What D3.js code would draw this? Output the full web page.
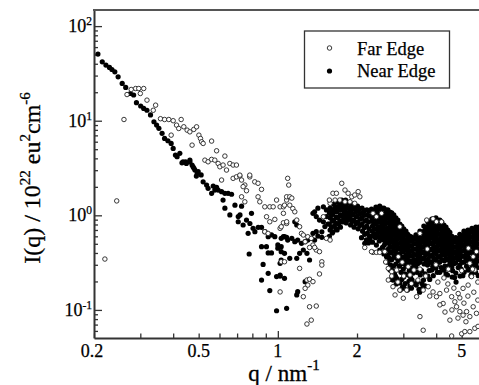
<!DOCTYPE html>
<html><head><meta charset="utf-8">
<script src="https://cdn.jsdelivr.net/npm/d3@7"></script>
<style>html,body{margin:0;padding:0;background:#fff;overflow:hidden}svg{display:block}svg text{font-family:'Liberation Serif','Times New Roman',serif}</style>
</head><body><svg id="c" width="479" height="385"></svg>
<script>
// Near Edge (filled) : [q (nm^-1), I(q)]
const nearEdge = [
[0.207,50.6],[0.215,41.9],[0.222,38.7],[0.229,36.6],[0.234,34.8],[0.240,32.9],[0.247,29.1],[0.256,24.8],[0.264,22.5],[0.275,19.4],[0.283,18.7],[0.290,15.5],[0.301,14.3],[0.309,13.5],[0.318,12.9],[0.328,11.5],[0.338,9.75],[0.346,9.0],[0.353,8.3],[0.363,7.35],[0.371,6.5],[0.382,6.14],[0.393,5.76],[0.400,5.1],[0.408,4.34],[0.414,4.16],[0.424,4.52],[0.432,3.59],[0.436,3.68],[0.446,3.68],[0.449,3.54],[0.463,3.84],[0.463,3.68],[0.472,3.40],[0.476,3.26],[0.480,3.14],[0.484,3.01],[0.490,2.60],[0.494,2.78],[0.498,2.89],[0.511,2.67],[0.520,2.26],[0.536,2.09],[0.543,1.93],[0.560,1.71],[0.568,2.04],[0.576,1.85],[0.585,1.98],[0.593,1.85],[0.611,1.78],[0.629,1.71],[0.647,1.71],[0.667,1.67],[0.619,1.45],[0.629,1.19],[0.657,1.01],[0.687,1.28],[0.707,0.97],[0.728,1.25],[0.718,1.01],[0.707,0.855],[0.738,0.79],[0.760,0.89],[0.783,0.82],[0.794,1.05],[0.805,0.73],[0.771,0.645],[0.818,0.671],[0.842,0.747],[0.867,0.747],[0.893,0.671],[0.919,0.594],[0.946,0.62],[0.974,0.594],[1.0,0.486],[1.03,0.466],[1.05,0.594],[1.08,0.585],[0.778,0.39],[0.867,0.466],[0.905,0.466],[0.919,0.40],[0.946,0.40],[0.879,0.303],[0.919,0.244],[0.867,0.207],[0.932,0.16],[0.989,0.225],[1.02,0.228],[1.02,0.311],[0.989,0.098],[1.08,0.104],[1.0,0.45],[1.03,0.413],[1.06,0.397],
[1.03,0.571],[1.06,0.594],[1.09,0.548],[1.13,0.571],[1.16,0.526],[1.19,0.548],[1.23,0.506],[1.27,0.526],[1.30,0.548],[1.34,0.571],[1.38,0.548],[1.42,0.604],[1.47,0.585],[1.36,0.645],[1.40,0.671],[1.16,0.855],[1.18,0.79],[1.21,0.397],[1.25,0.43],[1.29,0.397],[1.32,0.337],[1.18,0.351],[1.11,0.351],[1.02,0.234],[1.06,0.216],[1.27,0.199],[1.19,0.156],[1.18,0.144],[1.03,0.337],
[1.36,1.05],[1.40,0.97],[1.44,0.89],[1.49,0.855],[1.51,0.76],[1.47,0.67],[1.38,1.09],[1.42,1.19],[1.49,1.23],[1.53,1.14],[1.53,0.97],[1.55,0.81],
[1.58,1.19],[1.57,1.06],[1.58,0.94],[1.57,0.81],[1.58,0.70],[1.57,0.60],
[1.60,1.12],[1.60,1.00],[1.61,0.87],[1.60,0.75],[1.61,0.65],
[1.63,1.31],[1.64,1.17],[1.62,1.03],[1.63,0.89],[1.64,0.77],[1.62,0.67],
[1.66,1.24],[1.66,1.10],[1.67,0.96],[1.66,0.83],[1.67,0.72],
[1.69,1.38],[1.70,1.22],[1.68,1.09],[1.69,0.94],[1.70,0.81],[1.68,0.70],
[1.72,1.30],[1.72,1.15],[1.73,1.01],[1.72,0.87],[1.73,0.75],
[1.75,1.45],[1.76,1.28],[1.74,1.14],[1.75,0.98],[1.76,0.85],
[1.78,1.36],[1.78,1.21],[1.79,1.06],[1.78,0.91],
[1.81,1.45],[1.82,1.28],[1.80,1.11],[1.81,0.96],[1.82,0.83],
[1.84,1.36],[1.84,1.19],[1.85,1.03],[1.84,0.89],
[1.88,1.38],[1.89,1.22],[1.87,1.09],[1.88,0.94],[1.89,0.79],
[1.91,1.30],[1.91,1.15],[1.92,1.01],[1.91,0.86],
[1.94,1.31],[1.95,1.17],[1.93,1.03],[1.94,0.89],[1.95,0.75],
[1.98,1.24],[1.98,1.10],[1.99,0.96],[1.98,0.82],
[2.01,1.25],[2.02,1.11],[2.00,0.98],[2.01,0.85],[2.02,0.72],
[2.05,1.18],[2.05,1.04],[2.06,0.91],[2.05,0.78],
[2.09,1.19],[2.10,1.06],[2.08,0.94],[2.09,0.81],[2.10,0.68],[2.08,0.58],
[2.13,1.12],[2.13,1.00],[2.14,0.87],[2.13,0.74],[2.14,0.63],
[2.18,1.14],[2.19,1.01],[2.17,0.89],[2.18,0.77],[2.19,0.65],[2.17,0.55],
[2.22,1.11],[2.23,0.98],[2.21,0.85],[2.22,0.72],[2.23,0.60],[2.21,0.51],
[2.14,0.506],[2.24,0.548],[2.59,0.365],[2.67,0.264],[2.74,0.207],
[2.27,1.16],[2.29,1.06],[2.28,0.96],[2.27,0.87],[2.29,0.77],[2.28,0.68],[2.27,0.60],[2.29,0.52],
[2.32,1.11],[2.32,1.01],[2.33,0.91],[2.32,0.82],[2.33,0.72],[2.32,0.64],
[2.36,1.22],[2.35,1.11],[2.37,1.01],[2.36,0.91],[2.35,0.81],[2.37,0.72],[2.36,0.63],[2.35,0.58],[2.37,0.485],
[2.40,1.16],[2.40,1.06],[2.41,0.96],[2.40,0.86],[2.41,0.76],[2.40,0.67],[2.41,0.60],
[2.44,1.25],[2.45,1.14],[2.43,1.03],[2.44,0.94],[2.45,0.85],[2.43,0.75],[2.44,0.67],[2.45,0.59],[2.43,0.535],[2.44,0.43],
[2.48,1.19],[2.48,1.08],[2.49,0.98],[2.48,0.89],[2.49,0.80],[2.48,0.71],[2.49,0.63],[2.48,0.56],[2.50,0.46],
[2.53,1.19],[2.52,1.09],[2.54,0.98],[2.53,0.87],[2.52,0.77],[2.54,0.68],[2.53,0.60],[2.52,0.55],[2.54,0.485],[2.53,0.39],
[2.57,1.14],[2.57,1.03],[2.58,0.92],[2.57,0.82],[2.58,0.72],[2.57,0.64],[2.58,0.57],[2.57,0.52],[2.56,0.42],
[2.62,1.14],[2.61,1.03],[2.63,0.94],[2.62,0.83],[2.61,0.73],[2.63,0.65],[2.62,0.58],[2.61,0.51],[2.63,0.44],[2.62,0.38],[2.61,0.32],
[2.67,1.08],[2.67,0.98],[2.68,0.88],[2.67,0.78],[2.68,0.69],[2.67,0.61],[2.68,0.54],[2.67,0.47],[2.68,0.41],[2.66,0.35],[2.68,0.30],
[2.71,1.06],[2.72,0.96],[2.70,0.85],[2.71,0.75],[2.72,0.67],[2.70,0.59],[2.71,0.52],[2.72,0.46],[2.70,0.40],[2.71,0.34],[2.72,0.26],[2.70,0.21],
[2.76,1.01],[2.76,0.90],[2.77,0.80],[2.76,0.71],[2.77,0.63],[2.76,0.55],[2.77,0.49],[2.76,0.43],[2.77,0.37],[2.75,0.29],[2.77,0.24],
[2.81,0.94],[2.80,0.85],[2.82,0.77],[2.81,0.68],[2.80,0.60],[2.82,0.535],[2.81,0.47],[2.80,0.41],[2.82,0.353],[2.81,0.306],[2.80,0.228],[2.82,0.188],[2.78,0.25],[2.84,0.215],
[2.86,0.89],[2.86,0.81],[2.87,0.72],[2.86,0.64],[2.87,0.57],[2.86,0.50],[2.87,0.44],[2.86,0.38],[2.87,0.33],
[2.91,0.81],[2.92,0.73],[2.90,0.65],[2.91,0.58],[2.92,0.51],[2.90,0.45],[2.91,0.39],[2.92,0.337],[2.90,0.29],[2.91,0.193],[2.92,0.162],[2.94,0.25],[2.96,0.21],[2.98,0.175],
[2.96,0.77],[2.96,0.69],[2.97,0.61],[2.96,0.54],[2.97,0.48],[2.96,0.42],[2.97,0.36],[2.96,0.31],
[3.01,0.72],[3.02,0.65],[3.00,0.59],[3.01,0.52],[3.02,0.46],[3.00,0.41],[3.01,0.36],[3.02,0.31],[3.00,0.27],[3.01,0.223],[3.02,0.17],[3.04,0.24],[3.05,0.19],
[3.07,0.68],[3.07,0.62],[3.08,0.55],[3.07,0.49],[3.08,0.43],[3.07,0.38],[3.08,0.33],[3.07,0.29],
[3.12,0.63],[3.13,0.58],[3.11,0.51],[3.12,0.45],[3.13,0.40],[3.11,0.353],[3.12,0.306],[3.13,0.234],[3.11,0.162],[3.16,0.26],[3.15,0.20],[3.18,0.18],
[3.18,0.60],[3.18,0.54],[3.19,0.48],[3.18,0.42],[3.19,0.376],[3.18,0.33],[3.20,0.22],
[3.23,0.59],[3.24,0.535],[3.22,0.47],[3.23,0.42],[3.24,0.37],[3.22,0.32],[3.23,0.276],[3.24,0.207],[3.22,0.17],[3.27,0.245],[3.28,0.19],
[3.29,0.56],[3.29,0.50],[3.30,0.44],[3.29,0.39],[3.30,0.34],[3.29,0.30],
[3.35,0.62],[3.36,0.56],[3.34,0.50],[3.35,0.44],[3.36,0.38],[3.34,0.33],[3.35,0.284],[3.36,0.183],[3.38,0.25],[3.40,0.20],[3.44,0.165],
[3.41,0.59],[3.41,0.53],[3.42,0.47],[3.41,0.41],[3.42,0.35],[3.41,0.31],
[3.47,0.68],[3.48,0.62],[3.46,0.55],[3.47,0.485],[3.48,0.43],[3.46,0.37],[3.47,0.32],[3.48,0.234],[3.46,0.154],[3.52,0.26],[3.53,0.19],[3.55,0.17],
[3.53,0.65],[3.53,0.58],[3.54,0.52],[3.53,0.46],[3.54,0.40],[3.53,0.345],
[3.59,0.77],[3.60,0.68],[3.58,0.60],[3.59,0.535],[3.60,0.47],[3.58,0.41],[3.59,0.353],[3.60,0.306],[3.58,0.207],[3.62,0.24],[3.63,0.18],
[3.65,0.72],[3.65,0.64],[3.66,0.57],[3.65,0.50],[3.66,0.44],[3.65,0.38],[3.66,0.33],
[3.72,0.85],[3.73,0.77],[3.71,0.68],[3.72,0.60],[3.73,0.535],[3.71,0.46],[3.72,0.40],[3.73,0.345],[3.71,0.298],[3.72,0.228],[3.76,0.26],[3.78,0.21],
[3.79,0.81],[3.79,0.72],[3.80,0.64],[3.79,0.57],[3.80,0.50],[3.79,0.43],[3.80,0.37],[3.79,0.32],
[3.85,0.91],[3.86,0.83],[3.84,0.73],[3.85,0.65],[3.86,0.58],[3.84,0.51],[3.85,0.44],[3.86,0.38],[3.84,0.32],[3.85,0.264],[3.88,0.29],[3.90,0.23],
[3.92,0.87],[3.92,0.78],[3.93,0.69],[3.92,0.61],[3.93,0.54],[3.92,0.47],[3.93,0.41],[3.92,0.35],
[3.99,0.94],[4.00,0.85],[3.98,0.75],[3.99,0.67],[4.00,0.59],[3.98,0.52],[3.99,0.45],[4.00,0.39],[3.98,0.337],[3.99,0.276],[4.03,0.30],[4.04,0.25],
[4.06,0.89],[4.06,0.80],[4.07,0.71],[4.06,0.63],[4.07,0.55],[4.06,0.48],[4.07,0.42],[4.06,0.36],
[4.13,0.89],[4.14,0.81],[4.12,0.72],[4.13,0.63],[4.14,0.56],[4.12,0.50],[4.13,0.43],[4.14,0.37],[4.12,0.32],[4.13,0.25],[4.18,0.28],
[4.20,0.85],[4.20,0.76],[4.21,0.67],[4.20,0.59],[4.21,0.53],[4.20,0.46],[4.21,0.40],[4.20,0.34],
[4.28,0.79],[4.29,0.72],[4.27,0.63],[4.28,0.56],[4.29,0.50],[4.27,0.44],[4.28,0.38],[4.29,0.33],[4.27,0.264],[4.32,0.29],[4.36,0.24],
[4.36,0.75],[4.36,0.67],[4.37,0.59],[4.36,0.53],[4.37,0.47],[4.36,0.41],[4.37,0.35],
[4.43,0.70],[4.44,0.63],[4.42,0.56],[4.43,0.50],[4.44,0.44],[4.42,0.39],[4.43,0.337],[4.44,0.29],[4.42,0.234],
[4.51,0.66],[4.51,0.59],[4.52,0.53],[4.51,0.47],[4.52,0.41],[4.51,0.36],[4.52,0.31],[4.50,0.27],
[4.59,0.60],[4.60,0.55],[4.58,0.485],[4.59,0.43],[4.60,0.38],[4.58,0.33],[4.59,0.284],[4.60,0.223],[4.62,0.26],
[4.67,0.57],[4.67,0.52],[4.68,0.46],[4.67,0.40],[4.68,0.35],[4.67,0.31],[4.70,0.22],
[4.75,0.58],[4.76,0.52],[4.74,0.46],[4.75,0.41],[4.76,0.36],[4.74,0.313],[4.75,0.245],[4.76,0.197],
[4.84,0.55],[4.84,0.49],[4.85,0.43],[4.84,0.38],[4.85,0.34],[4.85,0.28],
[4.92,0.63],[4.93,0.58],[4.91,0.51],[4.92,0.45],[4.93,0.40],[4.91,0.345],[4.92,0.298],[4.93,0.228],
[5.01,0.60],[5.01,0.54],[5.02,0.48],[5.01,0.42],[5.02,0.37],[5.01,0.32],[4.98,0.27],[5.05,0.23],
[5.10,0.68],[5.11,0.62],[5.09,0.55],[5.10,0.485],[5.11,0.43],[5.09,0.37],[5.10,0.32],[5.11,0.25],
[5.19,0.65],[5.19,0.58],[5.20,0.52],[5.19,0.46],[5.20,0.40],[5.19,0.345],[5.22,0.29],
[5.28,0.70],[5.29,0.63],[5.27,0.56],[5.28,0.50],[5.29,0.44],[5.27,0.38],[5.28,0.33],[5.29,0.264],
[5.37,0.66],[5.37,0.59],[5.38,0.53],[5.37,0.47],[5.38,0.41],[5.37,0.35],[5.35,0.27],[5.42,0.23],
[5.47,0.73],[5.48,0.67],[5.46,0.59],[5.47,0.52],[5.48,0.46],[5.46,0.40],[5.47,0.345],[5.48,0.298],[5.46,0.24],
[5.57,0.70],[5.57,0.63],[5.58,0.55],[5.57,0.49],[5.58,0.43],[5.57,0.37],[5.58,0.32],[5.58,0.28],
[5.66,0.75],[5.67,0.68],[5.65,0.60],[5.66,0.535],[5.67,0.47],[5.65,0.41],[5.66,0.353],[5.67,0.306],[5.65,0.25],
[5.76,0.71],[5.76,0.64],[5.77,0.57],[5.76,0.50],[5.77,0.44],[5.76,0.38],[5.77,0.33],[5.74,0.28],[5.78,0.23],
[5.81,0.75],[5.80,0.67],[5.82,0.58],[5.81,0.50],[5.80,0.43],[5.82,0.37]
];

// Far Edge (open) : [q (nm^-1), I(q)]
const farEdge = [
[0.220,0.345],[0.244,1.42],[0.260,10.3],[0.267,18.9],[0.277,21.4],[0.288,21.9],[0.296,21.9],[0.309,21.9],[0.300,19.4],[0.318,16.5],[0.336,12.9],[0.343,14.6],[0.358,10.5],[0.371,10.3],[0.385,10.3],[0.400,10.0],[0.412,8.98],[0.429,10.3],[0.420,8.28],[0.439,8.63],[0.452,7.95],[0.463,7.63],[0.479,8.09],[0.491,8.62],[0.393,7.04],[0.472,5.52],[0.501,7.04],[0.508,6.49],[0.513,5.99],[0.520,5.75],[0.560,6.09],[0.585,4.81],[0.629,4.23],[0.528,3.83],[0.543,3.68],[0.560,3.90],[0.576,3.83],[0.593,3.53],[0.602,3.26],[0.619,3.40],[0.638,3.01],[0.657,3.53],[0.676,3.40],[0.696,3.40],[0.611,2.36],[0.676,2.46],[0.696,2.55],[0.717,2.60],[0.728,2.36],[0.749,2.09],[0.782,2.55],[0.817,2.26],[0.841,2.18],[0.867,1.88],[0.738,2.01],[0.760,1.82],[0.728,1.57],[0.749,1.39],[0.841,1.57],[0.854,1.39],[0.892,1.23],[0.932,1.23],[0.960,1.23],[0.989,1.45],[1.02,1.23],[1.05,1.23],[1.09,2.46],[1.08,1.45],[0.906,0.966],[0.932,0.855],[0.974,0.906],[1.02,0.728],[1.05,0.834],[1.08,0.821],[1.03,0.323],[1.02,0.155],[0.892,0.671],[0.918,0.644],[0.717,2.66],[0.782,2.66],
[1.10,2.09],[1.08,1.57],[1.11,1.57],[1.13,1.52],[1.06,1.28],[1.11,1.28],[1.14,1.18],[1.16,1.09],[1.05,1.05],[1.08,0.855],[1.18,0.891],[1.21,0.757],[1.03,0.757],[1.23,0.644],[1.25,0.619],[1.30,0.594],[1.34,0.571],[1.36,0.485],[1.40,0.43],[1.44,0.413],[1.47,0.323],[1.47,0.298],[1.38,0.457],[1.27,0.526],[1.32,0.457],[1.21,0.275],[1.06,0.323],[1.29,0.207],[1.32,0.211],[1.36,0.199],[1.30,0.183],[1.27,0.169],[1.25,0.138],[1.44,0.240],[1.32,0.108],[1.40,0.110],[1.29,0.071],[1.34,0.078],[1.53,0.571],[1.58,0.548],
[1.58,1.34],[1.62,1.71],[1.67,1.71],[1.75,2.18],[1.80,1.85],[1.85,1.71],[1.91,1.57],[1.96,1.64],[2.02,1.78],[2.05,1.57],[1.57,1.45],[1.65,1.45],[1.72,1.45],[1.80,1.39],[1.88,1.39],[1.96,1.34],[2.14,0.457],[2.30,0.406],[2.37,0.406],[1.49,0.966],
[2.48,1.05],[2.30,1.05],[2.37,0.966],[2.91,0.757],[3.47,0.644],[3.68,0.891],[3.89,0.92],[4.01,0.855],[4.19,0.855],[2.27,0.413],[2.44,0.406],[2.55,0.413],[2.63,0.275],[2.71,0.253],[2.63,0.207],[2.74,0.176],[2.79,0.144],[2.91,0.162],[3.00,0.133],[3.09,0.162],[3.22,0.190],[3.37,0.138],[3.57,0.162],[3.18,0.234],[3.73,0.176],[3.89,0.155],[4.01,0.138],[4.13,0.149],[4.25,0.117],[4.38,0.162],[4.58,0.138],[4.71,0.122],[4.78,0.108],[4.92,0.096],[5.06,0.088],[5.22,0.096],[5.37,0.085],[5.53,0.108],[5.69,0.092],[4.85,0.149],[5.06,0.169],[5.29,0.183],[5.45,0.225],[5.61,0.264],[5.37,0.311],[5.53,0.365],[5.69,0.413],[3.47,0.085],[3.57,0.061],[4.51,0.078],[4.58,0.053],[5.00,0.056],[5.14,0.059],[5.37,0.059],[5.61,0.064],[5.77,0.067],[2.87,0.365],[3.13,0.286],[2.83,0.264],
[2.57,0.321],[2.71,0.228],[2.86,0.197],[3.01,0.228],[3.29,0.264],[3.41,0.207],[3.65,0.228],[3.78,0.140],[4.06,0.197],[4.28,0.218],[4.43,0.188],[4.67,0.170],[4.92,0.134],[5.10,0.118],[5.28,0.140],[5.56,0.154],[5.76,0.127],[4.13,0.113],[4.59,0.100],[5.76,0.197],[5.19,0.075],[4.84,0.082],[4.32,0.095],
[2.97,0.32],[3.47,0.27],[3.99,0.30],[4.45,0.27],[5.0,0.26],[5.5,0.27],[3.7,0.44],[5.3,0.45]
];

const xLabelValues = [0.2, 0.5, 1, 2, 5];
const xLabelTexts = ["0.2", "0.5", "1", "2", "5"];
const yMajorValues = [0.1, 1, 10, 100];
const yExponents = ["-1", "0", "1", "2"];
const legendLabels = ["Far Edge", "Near Edge"];

const serif = "'Liberation Serif', 'Times New Roman', serif";
const svg = d3.select("#c").attr("font-family", serif);
const x = d3.scaleLog().domain([0.2, 6]).range([94, 482.5]);
const y = d3.scaleLog().domain([0.0505, 148]).range([338, 10]);
const ink = "#333";
const txt = "#000";

// y axis (ticks inward)
const yMinor = y.ticks().filter(v => !yMajorValues.some(m => Math.abs(m - v) / m < 1e-6));
const gy = svg.append("g").attr("transform", "translate(94,0)");
gy.call(d3.axisLeft(y).tickValues(yMajorValues).tickSizeInner(-8).tickSizeOuter(0).tickFormat(""));
gy.append("g").call(d3.axisLeft(y).tickValues(yMinor).tickSizeInner(-4).tickSizeOuter(0).tickFormat(""))
  .select(".domain").remove();
gy.selectAll("line").attr("stroke", ink).attr("stroke-width", 1.3);
gy.select(".domain").attr("stroke", ink).attr("stroke-width", 2);

// x axis (ticks inward)
const xTicks = x.ticks().filter(v => v < 5.9);
const gx = svg.append("g").attr("transform", "translate(0,338)");
gx.call(d3.axisBottom(x).tickValues(xTicks).tickSizeInner(-4).tickSizeOuter(0).tickFormat(""));
gx.selectAll(".tick line").attr("y2", d => Math.abs(d - 1) < 1e-9 ? -7 : -4.5);
gx.selectAll("line").attr("stroke", ink).attr("stroke-width", 1.3);
gx.select(".domain").attr("stroke", ink).attr("stroke-width", 2);

// top border
svg.append("line").attr("x1", x(0.2) - 1).attr("x2", 479).attr("y1", y(148)).attr("y2", y(148))
  .attr("stroke", "#555").attr("stroke-width", 2.2);

// tick labels
svg.append("g").selectAll("text").data(xLabelValues).join("text")
  .attr("font-family", serif)
  .attr("x", (d, i) => x(d) - (i === 0 ? 2 : 0)).attr("y", 357)
  .attr("text-anchor", "middle").attr("font-size", 18).attr("fill", txt)
  .attr("stroke", txt).attr("stroke-width", 0.25)
  .text((d, i) => xLabelTexts[i]);

const yl = svg.append("g").selectAll("text").data(yMajorValues).join("text")
  .attr("font-family", serif)
  .attr("x", 92).attr("y", d => y(d) + 6)
  .attr("text-anchor", "end").attr("font-size", 18).attr("fill", txt)
  .attr("stroke", txt).attr("stroke-width", 0.25);
yl.append("tspan").text("10");
yl.append("tspan").attr("dy", -7).attr("font-size", 11.5).text((d, i) => yExponents[i]);

// data
const plot = svg.append("g");
plot.selectAll("circle.near").data(nearEdge).join("circle").attr("class", "near")
  .attr("cx", d => x(d[0])).attr("cy", d => y(d[1])).attr("r", 2.6).attr("fill", "#000");
plot.selectAll("circle.far").data(farEdge).join("circle").attr("class", "far")
  .attr("cx", d => x(d[0])).attr("cy", d => y(d[1])).attr("r", 2.25)
  .attr("fill", "#fff").attr("stroke", "#222").attr("stroke-width", 0.9);

// legend
const lg = svg.append("g");
lg.append("rect").attr("x", 304.5).attr("y", 31).attr("width", 145).attr("height", 57)
  .attr("fill", "#fff").attr("stroke", ink).attr("stroke-width", 1.3);
lg.append("circle").attr("cx", 329.5).attr("cy", 48).attr("r", 2.25)
  .attr("fill", "#fff").attr("stroke", "#222").attr("stroke-width", 0.9);
lg.append("circle").attr("cx", 329.5).attr("cy", 71).attr("r", 2.6).attr("fill", "#000");
lg.selectAll("text").data(legendLabels).join("text")
  .attr("font-family", serif)
  .attr("x", 357).attr("y", (d, i) => 54.5 + i * 22.5)
  .attr("font-size", 18.5).attr("fill", txt).attr("stroke", txt).attr("stroke-width", 0.25)
  .text(d => d);

// axis titles
const xt = svg.append("text").attr("font-family", serif).attr("x", 284).attr("y", 381).attr("text-anchor", "middle")
  .attr("font-size", 23).attr("fill", txt).attr("stroke", txt).attr("stroke-width", 0.3);
xt.append("tspan").text("q / nm");
xt.append("tspan").attr("dy", -11).attr("font-size", 15).text("-1");

const yt = svg.append("text").attr("font-family", serif).attr("transform", "translate(40,178) rotate(-90)")
  .attr("text-anchor", "middle").attr("font-size", 24).attr("fill", txt).attr("stroke", txt).attr("stroke-width", 0.3);
yt.append("tspan").text("I(q) / 10");
yt.append("tspan").attr("dy", -10).attr("font-size", 15).text("22");
yt.append("tspan").attr("dy", 10).text(" eu");
yt.append("tspan").attr("dy", -10).attr("font-size", 15).text("2");
yt.append("tspan").attr("dy", 10).text("cm");
yt.append("tspan").attr("dy", -10).attr("font-size", 15).text("-6");
</script></body></html>
